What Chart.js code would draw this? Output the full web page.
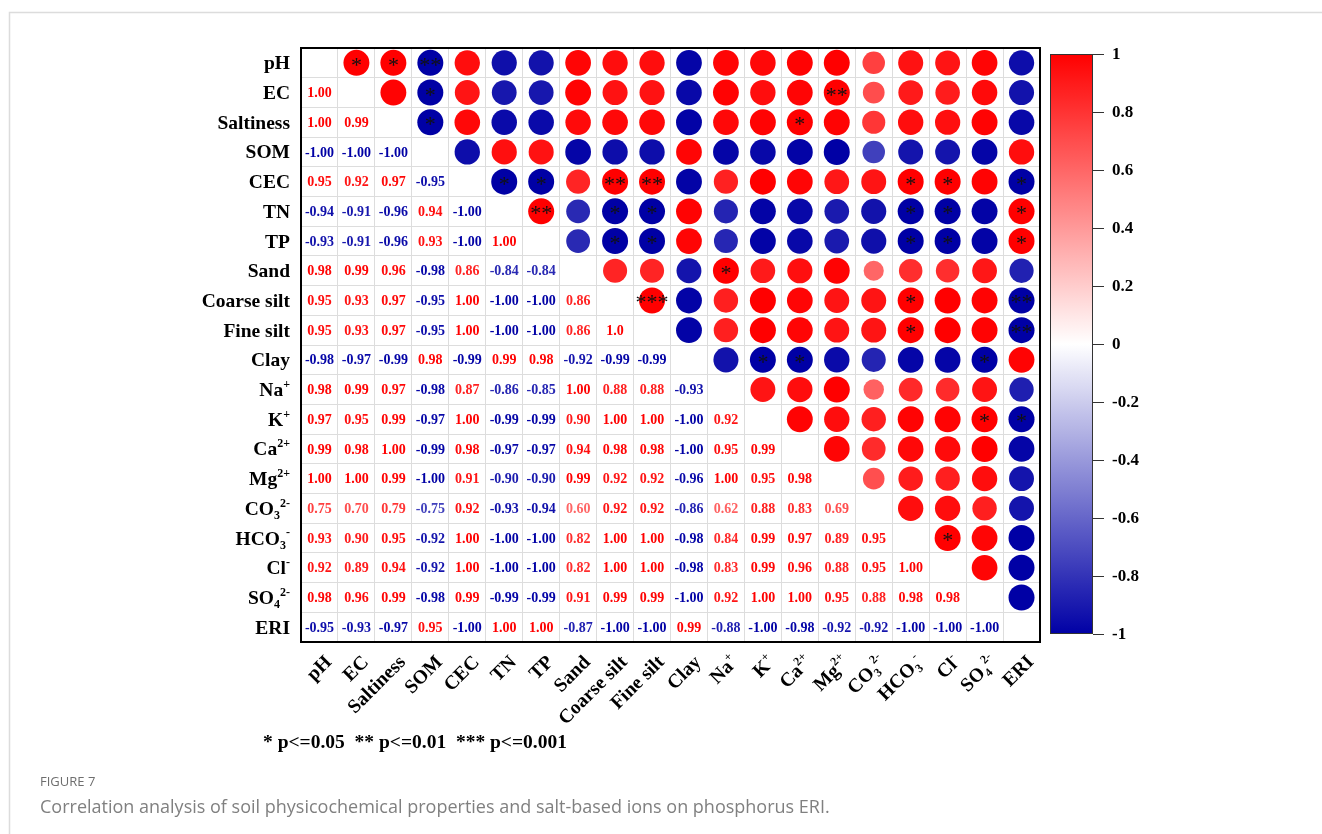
<!DOCTYPE html>
<html>
<head>
<meta charset="utf-8">
<script src="https://cdn.jsdelivr.net/npm/chart.js@4/dist/chart.umd.min.js"></script>
<style>
  html, body { margin: 0; padding: 0; background: #ffffff; }
  canvas { display: block; }
</style>
</head>
<body>
<canvas id="corr" width="1322" height="834"></canvas>
<script>
// Variables of the correlation matrix (sub/superscripts written as Unicode)
const categories = ['pH', 'EC', 'Saltiness', 'SOM', 'CEC', 'TN', 'TP', 'Sand', 'Coarse silt', 'Fine silt',
  'Clay', 'Na⁺', 'K⁺', 'Ca²⁺', 'Mg²⁺', 'CO₃²⁻', 'HCO₃⁻', 'Cl⁻', 'SO₄²⁻', 'ERI'];

// Lower-triangle Pearson coefficients, one row per variable, as printed
const rEC         = ['1.00'];
const rSaltiness  = ['1.00', '0.99'];
const rSOM        = ['-1.00', '-1.00', '-1.00'];
const rCEC        = ['0.95', '0.92', '0.97', '-0.95'];
const rTN         = ['-0.94', '-0.91', '-0.96', '0.94', '-1.00'];
const rTP         = ['-0.93', '-0.91', '-0.96', '0.93', '-1.00', '1.00'];
const rSand       = ['0.98', '0.99', '0.96', '-0.98', '0.86', '-0.84', '-0.84'];
const rCoarseSilt = ['0.95', '0.93', '0.97', '-0.95', '1.00', '-1.00', '-1.00', '0.86'];
const rFineSilt   = ['0.95', '0.93', '0.97', '-0.95', '1.00', '-1.00', '-1.00', '0.86', '1.0'];
const rClay       = ['-0.98', '-0.97', '-0.99', '0.98', '-0.99', '0.99', '0.98', '-0.92', '-0.99', '-0.99'];
const rNa         = ['0.98', '0.99', '0.97', '-0.98', '0.87', '-0.86', '-0.85', '1.00', '0.88', '0.88', '-0.93'];
const rK          = ['0.97', '0.95', '0.99', '-0.97', '1.00', '-0.99', '-0.99', '0.90', '1.00', '1.00', '-1.00', '0.92'];
const rCa         = ['0.99', '0.98', '1.00', '-0.99', '0.98', '-0.97', '-0.97', '0.94', '0.98', '0.98', '-1.00', '0.95', '0.99'];
const rMg         = ['1.00', '1.00', '0.99', '-1.00', '0.91', '-0.90', '-0.90', '0.99', '0.92', '0.92', '-0.96', '1.00', '0.95', '0.98'];
const rCO3        = ['0.75', '0.70', '0.79', '-0.75', '0.92', '-0.93', '-0.94', '0.60', '0.92', '0.92', '-0.86', '0.62', '0.88', '0.83', '0.69'];
const rHCO3       = ['0.93', '0.90', '0.95', '-0.92', '1.00', '-1.00', '-1.00', '0.82', '1.00', '1.00', '-0.98', '0.84', '0.99', '0.97', '0.89', '0.95'];
const rCl         = ['0.92', '0.89', '0.94', '-0.92', '1.00', '-1.00', '-1.00', '0.82', '1.00', '1.00', '-0.98', '0.83', '0.99', '0.96', '0.88', '0.95', '1.00'];
const rSO4        = ['0.98', '0.96', '0.99', '-0.98', '0.99', '-0.99', '-0.99', '0.91', '0.99', '0.99', '-1.00', '0.92', '1.00', '1.00', '0.95', '0.88', '0.98', '0.98'];
const rERI        = ['-0.95', '-0.93', '-0.97', '0.95', '-1.00', '1.00', '1.00', '-0.87', '-1.00', '-1.00', '0.99', '-0.88', '-1.00', '-0.98', '-0.92', '-0.92', '-1.00', '-1.00', '-1.00'];

// Significant pairs (row variable, column variable) by level
const sigP05 = [['pH', 'EC'], ['pH', 'Saltiness'], ['EC', 'SOM'], ['Saltiness', 'SOM'], ['Saltiness', 'Ca²⁺'],
  ['CEC', 'TN'], ['CEC', 'TP'], ['CEC', 'HCO₃⁻'], ['CEC', 'Cl⁻'], ['CEC', 'ERI'],
  ['TN', 'Coarse silt'], ['TN', 'Fine silt'], ['TN', 'HCO₃⁻'], ['TN', 'Cl⁻'], ['TN', 'ERI'],
  ['TP', 'Coarse silt'], ['TP', 'Fine silt'], ['TP', 'HCO₃⁻'], ['TP', 'Cl⁻'], ['TP', 'ERI'],
  ['Sand', 'Na⁺'], ['Coarse silt', 'HCO₃⁻'], ['Fine silt', 'HCO₃⁻'],
  ['Clay', 'K⁺'], ['Clay', 'Ca²⁺'], ['Clay', 'SO₄²⁻'], ['K⁺', 'SO₄²⁻'], ['K⁺', 'ERI'], ['HCO₃⁻', 'Cl⁻']];
const sigP01 = [['pH', 'SOM'], ['EC', 'Mg²⁺'], ['CEC', 'Coarse silt'], ['CEC', 'Fine silt'], ['TN', 'TP'],
  ['Coarse silt', 'ERI'], ['Fine silt', 'ERI']];
const sigP001 = [['Coarse silt', 'Fine silt']];

// Colour bar ticks
const colorbarTicks = [1, 0.8, 0.6, 0.4, 0.2, 0, -0.2, -0.4, -0.6, -0.8, -1];
const colorbarLabels = ['1', '0.8', '0.6', '0.4', '0.2', '0', '-0.2', '-0.4', '-0.6', '-0.8', '-1'];

const legendText = '* p<=0.05  ** p<=0.01  *** p<=0.001';
const figureLabel = 'FIGURE 7';
const figureCaption = 'Correlation analysis of soil physicochemical properties and salt-based ions on phosphorus ERI.';

// ---- matrix assembly ----
const lowerRows = [[], rEC, rSaltiness, rSOM, rCEC, rTN, rTP, rSand, rCoarseSilt, rFineSilt, rClay,
  rNa, rK, rCa, rMg, rCO3, rHCO3, rCl, rSO4, rERI];
function printedAt(i, j) { return i > j ? lowerRows[i][j] : lowerRows[j][i]; }
function valueAt(i, j) { return parseFloat(printedAt(i, j)); }

const stars = {};
[[sigP05, '*'], [sigP01, '**'], [sigP001, '***']].forEach(([list, mark]) => {
  list.forEach(([a, b]) => { stars[categories.indexOf(a) + ',' + categories.indexOf(b)] = mark; });
});

// Upper triangle circles
const circles = [];
for (let i = 0; i < categories.length; i++) {
  for (let j = i + 1; j < categories.length; j++) {
    circles.push({ x: categories[j], y: categories[i], v: valueAt(i, j), star: stars[i + ',' + j] || '' });
  }
}

// Diverging colour map: navy (-1) -> white (0) -> red (+1)
const NEG = [0, 0, 165], POS = [255, 0, 0];
function colorFor(v) {
  const t = Math.min(1, Math.abs(v));
  const end = v < 0 ? NEG : POS;
  const c = end.map(e => Math.round(255 + (e - 255) * t));
  return `rgb(${c[0]},${c[1]},${c[2]})`;
}

const SERIF = '"Liberation Serif", "Times New Roman", serif';
const MAX_R = 13;

// Rich text (subscripts / superscripts) helpers
const SUBS = '₀₁₂₃₄₅₆₇₈₉', SUPS = '⁰¹²³⁴⁵⁶⁷⁸⁹';
function segments(label) {
  const segs = [];
  for (const ch of label) {
    let mode = 0, c = ch;
    if (SUBS.includes(ch)) { mode = 1; c = String(SUBS.indexOf(ch)); }
    else if (SUPS.includes(ch)) { mode = 2; c = String(SUPS.indexOf(ch)); }
    else if (ch === '⁺') { mode = 2; c = '+'; }
    else if (ch === '⁻') { mode = 2; c = '-'; }
    const last = segs[segs.length - 1];
    if (last && last.mode === mode) last.text += c; else segs.push({ mode, text: c });
  }
  return segs;
}
function segFont(mode, size) {
  const s = mode ? Math.round(size * 0.62) : size;
  return `bold ${s}px ${SERIF}`;
}
function richWidth(ctx, segs, size) {
  let w = 0;
  segs.forEach(s => { ctx.font = segFont(s.mode, size); w += ctx.measureText(s.text).width; });
  return w;
}
function drawRich(ctx, segs, x, y, size) {
  ctx.textAlign = 'left';
  ctx.textBaseline = 'alphabetic';
  let cx = x;
  segs.forEach(s => {
    ctx.font = segFont(s.mode, size);
    const dy = s.mode === 1 ? size * 0.22 : s.mode === 2 ? -size * 0.42 : 0;
    ctx.fillText(s.text, cx, y + dy);
    cx += ctx.measureText(s.text).width;
  });
}

const decorPlugin = {
  id: 'corrDecor',
  beforeDraw(chart) {
    const ctx = chart.ctx;
    ctx.save();
    ctx.fillStyle = '#ffffff';
    ctx.fillRect(0, 0, chart.width, chart.height);
    ctx.strokeStyle = '#dcdcdc';
    ctx.lineWidth = 1.5;
    ctx.strokeRect(9.5, 12.5, chart.width + 20, chart.height + 20);
    ctx.restore();
  },
  afterDatasetsDraw(chart) {
    const ctx = chart.ctx, xs = chart.scales.x, ys = chart.scales.y;
    ctx.save();
    // coefficients in the lower triangle
    ctx.textAlign = 'center';
    ctx.textBaseline = 'middle';
    ctx.font = `bold 14px ${SERIF}`;
    for (let i = 1; i < categories.length; i++) {
      for (let j = 0; j < i; j++) {
        const txt = printedAt(i, j);
        ctx.fillStyle = colorFor(parseFloat(txt));
        ctx.fillText(txt, xs.getPixelForValue(j), ys.getPixelForValue(i) + 1);
      }
    }
    // significance marks on the circles
    ctx.fillStyle = '#111111';
    ctx.font = `22px ${SERIF}`;
    ctx.textBaseline = 'alphabetic';
    circles.forEach(p => {
      if (!p.star) return;
      const x = xs.getPixelForValue(categories.indexOf(p.x));
      const y = ys.getPixelForValue(categories.indexOf(p.y));
      ctx.fillText(p.star, x, y + 9);
    });
    ctx.restore();
  },
  afterDraw(chart) {
    const ctx = chart.ctx, area = chart.chartArea, xs = chart.scales.x, ys = chart.scales.y;
    ctx.save();
    // frame of the matrix
    ctx.strokeStyle = '#000000';
    ctx.lineWidth = 2;
    ctx.strokeRect(area.left, area.top, area.right - area.left, area.bottom - area.top);

    // row labels
    ctx.fillStyle = '#000000';
    const LS = 19.5;
    categories.forEach((name, i) => {
      const segs = segments(name);
      const w = richWidth(ctx, segs, LS);
      drawRich(ctx, segs, area.left - 11 - w, ys.getPixelForValue(i) + 6.5, LS);
    });
    // column labels, rotated 45 degrees
    categories.forEach((name, j) => {
      const segs = segments(name);
      const w = richWidth(ctx, segs, LS);
      ctx.save();
      ctx.translate(xs.getPixelForValue(j) + 13, area.bottom + 21);
      ctx.rotate(-Math.PI / 4);
      drawRich(ctx, segs, -w, 0, LS);
      ctx.restore();
    });

    // colour bar
    const cbL = 1050, cbR = 1093, cbT = 54, cbB = 634;
    const grad = ctx.createLinearGradient(0, cbT, 0, cbB);
    for (let k = 0; k <= 40; k++) {
      const v = 1 - k / 20;
      grad.addColorStop(k / 40, colorFor(v));
    }
    ctx.fillStyle = grad;
    ctx.fillRect(cbL, cbT, cbR - cbL, cbB - cbT);
    ctx.strokeStyle = '#333333';
    ctx.lineWidth = 1;
    ctx.strokeRect(cbL + 0.5, cbT + 0.5, cbR - cbL - 1, cbB - cbT - 1);
    ctx.fillStyle = '#000000';
    ctx.font = `bold 17px ${SERIF}`;
    ctx.textAlign = 'left';
    ctx.textBaseline = 'middle';
    colorbarTicks.forEach((t, k) => {
      const y = Math.round(cbT + (1 - t) / 2 * (cbB - cbT)) + 0.5;
      ctx.beginPath();
      ctx.moveTo(cbR, y);
      ctx.lineTo(cbR + 11, y);
      ctx.stroke();
      ctx.fillText(colorbarLabels[k], cbR + 19, y);
    });

    // significance legend
    ctx.font = `bold 19.5px ${SERIF}`;
    ctx.textBaseline = 'alphabetic';
    ctx.fillText(legendText, 263, 748);

    // figure caption
    ctx.font = '13px "Open Sans", sans-serif';
    ctx.fillStyle = '#6e6e6e';
    ctx.fillText(figureLabel, 40, 786);
    ctx.font = '18px "Open Sans", sans-serif';
    ctx.fillStyle = '#808080';
    ctx.fillText(figureCaption, 40, 813);
    ctx.restore();
  }
};

new Chart(document.getElementById('corr'), {
  type: 'scatter',
  data: {
    datasets: [{
      data: circles,
      pointRadius: c => MAX_R * Math.sqrt(Math.abs(c.raw.v)),
      pointBackgroundColor: c => colorFor(c.raw.v),
      pointBorderWidth: 0,
      pointBorderColor: 'rgba(0,0,0,0)',
      pointHoverRadius: c => MAX_R * Math.sqrt(Math.abs(c.raw.v))
    }]
  },
  options: {
    responsive: false,
    animation: false,
    events: [],
    layout: { padding: { left: 301, top: 48, right: 1322 - 1040, bottom: 834 - 642 } },
    plugins: { legend: { display: false }, tooltip: { enabled: false } },
    scales: {
      x: {
        type: 'category', labels: categories, offset: true,
        grid: { offset: true, color: '#dddddd', lineWidth: 1, drawTicks: false },
        ticks: { display: false }, border: { display: false }
      },
      y: {
        type: 'category', labels: categories, offset: true,
        grid: { offset: true, color: '#dddddd', lineWidth: 1, drawTicks: false },
        ticks: { display: false }, border: { display: false }
      }
    }
  },
  plugins: [decorPlugin]
});
</script>
</body>
</html>
